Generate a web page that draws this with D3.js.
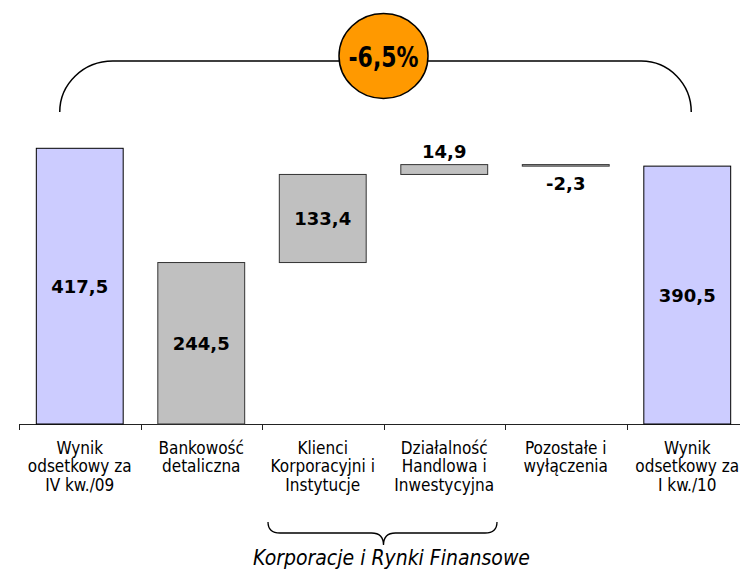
<!DOCTYPE html>
<html>
<head>
<meta charset="utf-8">
<script src="https://cdn.jsdelivr.net/npm/d3@7"></script>
<style>
  html, body { margin: 0; padding: 0; background: #fff; }
  svg { display: block; }
</style>
</head>
<body>
<svg id="chart" width="740" height="574"></svg>
<script>
// Waterfall: net interest income bridge from Q4/09 to Q1/10 by segment
const categories = [
  ["Wynik", "odsetkowy za", "IV kw./09"],
  ["Bankowość", "detaliczna"],
  ["Klienci", "Korporacyjni i", "Instytucje"],
  ["Działalność", "Handlowa i", "Inwestycyjna"],
  ["Pozostałe i", "wyłączenia"],
  ["Wynik", "odsetkowy za", "I kw./10"]
];
const values = [417.5, 244.5, 133.4, 14.9, -2.3, 390.5];
// "total" bars start at zero, "step" bars continue from the running sum
const kinds = ["total", "step", "step", "step", "step", "total"];
const changeLabel = "-6,5%";
const groupLabel = "Korporacje i Rynki Finansowe";

const fmt = v => d3.format(".1f")(Math.abs(v)).replace(".", ",").replace(/^/, v < 0 ? "-" : "");

// build segments
let running = 0;
const bars = values.map((v, i) => {
  let y0, y1;
  if (kinds[i] === "total") { y0 = 0; y1 = v; }
  else { y0 = running; y1 = running + v; running = y1; }
  return { i, v, kind: kinds[i], lo: Math.min(y0, y1), hi: Math.max(y0, y1) };
});

const svg = d3.select("#chart");
const keys = categories.map((c, i) => i);

const x = d3.scaleBand()
  .domain(keys)
  .range([19, 748])
  .paddingInner(0.285)
  .paddingOuter(0.1425);
const step = x.step();
const edge = i => x(i) - step * x.paddingInner() / 2;

const y = d3.scaleLinear().domain([0, 417.5]).range([424, 148.3]);

// axis line with category boundary ticks
const axis = svg.append("g").attr("transform", `translate(0,${y(0)})`)
  .call(d3.axisBottom(x).tickSize(0).tickSizeOuter(0).tickFormat(""));
axis.select(".domain").attr("stroke", "#222").attr("stroke-width", 1);
axis.selectAll(".boundary")
  .data(d3.range(keys.length + 1))
  .join("line")
  .attr("class", "boundary")
  .attr("x1", i => Math.round(i < keys.length ? edge(i) : edge(keys.length - 1) + step) + 0.5)
  .attr("x2", i => Math.round(i < keys.length ? edge(i) : edge(keys.length - 1) + step) + 0.5)
  .attr("y1", 0).attr("y2", 6)
  .attr("stroke", "#222");

// bars
svg.append("g").selectAll("rect")
  .data(bars)
  .join("rect")
  .attr("x", d => x(d.i))
  .attr("width", x.bandwidth())
  .attr("y", d => y(d.hi))
  .attr("height", d => Math.max(1.5, y(d.lo) - y(d.hi)))
  .attr("fill", d => d.kind === "total" ? "#ccccff" : "#c0c0c0")
  .attr("stroke", d => d.kind === "total" ? "#000" : "#333")
  .attr("stroke-width", 1);

// value labels
svg.append("g").selectAll("text")
  .data(bars)
  .join("text")
  .attr("x", d => x(d.i) + x.bandwidth() / 2)
  .attr("y", d => {
    const h = y(d.lo) - y(d.hi);
    if (h > 40) return (y(d.lo) + y(d.hi)) / 2 + 6.5;
    return d.v >= 0 ? y(d.hi) - 6.5 : y(d.lo) + 24;
  })
  .attr("text-anchor", "middle")
  .attr("font-family", "'DejaVu Sans', Verdana, sans-serif")
  .attr("font-weight", "bold")
  .attr("font-size", 18)
  .attr("fill", "#000")
  .text(d => fmt(d.v));

// category labels
const catG = svg.append("g")
  .attr("font-family", "'DejaVu Sans Condensed', 'DejaVu Sans', Tahoma, sans-serif")
  .attr("font-size", 17)
  .attr("fill", "#000")
  .attr("text-anchor", "middle");
catG.selectAll("text")
  .data(categories)
  .join("text")
  .attr("x", (d, i) => x(i) + x.bandwidth() / 2)
  .attr("y", 453.5)
  .selectAll("tspan")
  .data(d => d)
  .join("tspan")
  .attr("x", function () { return d3.select(this.parentNode).attr("x"); })
  .attr("dy", (d, j) => j === 0 ? 0 : 18.5)
  .text(d => d);

// brace under the two corporate segments
const bL = edge(2) + 6, bR = edge(3) + step - 8, bM = edge(3);
const bTop = 522, bMid = 533, bTip = 545, r = 12;
svg.append("path")
  .attr("d", `M${bL},${bTop} Q${bL},${bMid} ${bL + r},${bMid} L${bM - r},${bMid} Q${bM},${bMid} ${bM},${bTip} Q${bM},${bMid} ${bM + r},${bMid} L${bR - r},${bMid} Q${bR},${bMid} ${bR},${bTop}`)
  .attr("fill", "none").attr("stroke", "#000").attr("stroke-width", 1.3);
svg.append("text")
  .attr("x", bM + 8).attr("y", 565)
  .attr("text-anchor", "middle")
  .attr("font-family", "'DejaVu Sans Condensed', 'DejaVu Sans', Tahoma, sans-serif")
  .attr("font-style", "italic")
  .attr("font-size", 21)
  .attr("fill", "#000")
  .text(groupLabel);

// bracket spanning first to last total, with change badge
const tL = x(0) + x.bandwidth() / 2 - 20, tR = x(5) + x.bandwidth() / 2 + 4;
const tY = 61, tBot = 112;
svg.append("path")
  .attr("d", `M${tL},${tBot} A53,51 0 0 1 ${tL + 53},${tY} L${tR - 50},${tY} A50,51 0 0 1 ${tR},${tBot}`)
  .attr("fill", "none").attr("stroke", "#000").attr("stroke-width", 1.5);
const cx = edge(3), cy = 56;
svg.append("ellipse")
  .attr("cx", cx).attr("cy", cy).attr("rx", 44.5).attr("ry", 42.5)
  .attr("fill", "#ff9900").attr("stroke", "#000").attr("stroke-width", 1.5);
svg.append("text")
  .attr("x", cx).attr("y", cy + 11)
  .attr("text-anchor", "middle")
  .attr("font-family", "'DejaVu Sans Condensed', 'DejaVu Sans', sans-serif")
  .attr("font-weight", "bold")
  .attr("font-size", 29)
  .attr("textLength", 70)
  .attr("lengthAdjust", "spacingAndGlyphs")
  .attr("fill", "#000")
  .text(changeLabel);
</script>
</body>
</html>
